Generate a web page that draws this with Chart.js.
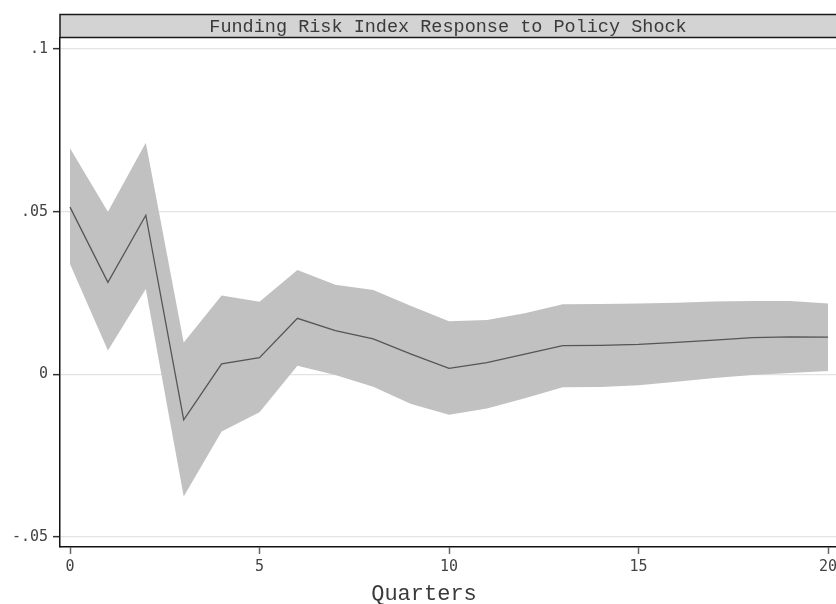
<!DOCTYPE html>
<html>
<head>
<meta charset="utf-8">
<script src="https://cdn.jsdelivr.net/npm/chart.js@4.4.1/dist/chart.umd.min.js"></script>
<style>
  html, body { margin: 0; padding: 0; background: #ffffff; overflow: hidden; }
  #irf { display: block; }
</style>
</head>
<body>
<canvas id="irf" width="836" height="604"></canvas>
<script>
// ---- datos del gráfico ----
var quarters = [0, 1, 2, 3, 4, 5, 6, 7, 8, 9, 10, 11, 12, 13, 14, 15, 16, 17, 18, 19, 20];
var irfValues = [0.0514, 0.0283, 0.0489, -0.0140, 0.0032, 0.0051, 0.0172, 0.0134, 0.0109, 0.0062, 0.0018,
                 0.0036, 0.0062, 0.0088, 0.0089, 0.0092, 0.0098, 0.0105, 0.0113, 0.0115, 0.0114];
var upperBand = [0.0695, 0.0500, 0.0712, 0.0098, 0.0242, 0.0223, 0.0321, 0.0275, 0.0259, 0.0210, 0.0163,
                 0.0167, 0.0188, 0.0215, 0.0216, 0.0218, 0.0220, 0.0224, 0.0225, 0.0225, 0.0218];
var lowerBand = [0.0339, 0.0073, 0.0262, -0.0376, -0.0176, -0.0117, 0.0026, -0.0002, -0.0038, -0.0091, -0.0124,
                 -0.0105, -0.0074, -0.0040, -0.0039, -0.0034, -0.0023, -0.0011, -0.0002, 0.0004, 0.0010];
var yTicks = [-0.05, 0, 0.05, 0.1];
var yTickLabels = ['-.05', '0', '.05', '.1'];
var xTicks = [0, 5, 10, 15, 20];
var chartTitle = 'Funding Risk Index Response to Policy Shock';
var xTitle = 'Quarters';

function pares(vals) {
  return quarters.map(function(q, i) { return { x: q, y: vals[i] }; });
}

// ---- barra de título y título del eje (estilo Stata) ----
var marcoStata = {
  id: 'marcoStata',
  afterDraw: function(chart) {
    var ctx = chart.ctx;
    var area = chart.chartArea;
    ctx.save();
    // barra del título
    ctx.fillStyle = '#d3d3d3';
    ctx.fillRect(area.left, 14, area.right - area.left, 24);
    ctx.strokeStyle = '#1a1a1a';
    ctx.lineWidth = 1.5;
    ctx.beginPath();
    ctx.moveTo(area.right, 14.5);
    ctx.lineTo(area.left, 14.5);
    ctx.lineTo(area.left, 38);
    ctx.moveTo(area.left, 37.5);
    ctx.lineTo(area.right, 37.5);
    ctx.stroke();
    ctx.fillStyle = '#3a3a3a';
    ctx.font = '18.5px "Liberation Mono", monospace';
    ctx.textAlign = 'center';
    ctx.textBaseline = 'middle';
    ctx.fillText(chartTitle, (area.left + area.right) / 2, 27);
    // título del eje x
    ctx.font = '22px "Liberation Mono", monospace';
    ctx.fillText(xTitle, 424, 594);
    ctx.restore();
  }
};

new Chart(document.getElementById('irf'), {
  type: 'line',
  data: {
    datasets: [
      {
        label: 'IRF',
        data: pares(irfValues),
        borderColor: '#555555',
        borderWidth: 1.3,
        pointRadius: 0,
        fill: false,
        tension: 0
      },
      {
        label: 'Upper',
        data: pares(upperBand),
        borderWidth: 0,
        borderColor: 'rgba(0,0,0,0)',
        backgroundColor: '#c1c1c1',
        pointRadius: 0,
        fill: '+1',
        tension: 0
      },
      {
        label: 'Lower',
        data: pares(lowerBand),
        borderWidth: 0,
        borderColor: 'rgba(0,0,0,0)',
        pointRadius: 0,
        fill: false,
        tension: 0
      }
    ]
  },
  options: {
    responsive: false,
    animation: false,
    devicePixelRatio: 1,
    layout: { padding: { top: 38, right: 0, bottom: 0, left: 0 } },
    plugins: { legend: { display: false }, tooltip: { enabled: false } },
    scales: {
      x: {
        type: 'linear',
        min: -0.264,
        max: 20.21,
        afterBuildTicks: function(scale) {
          scale.ticks = xTicks.map(function(v) { return { value: v }; });
        },
        afterFit: function(scale) {
          scale.height = 57;
          scale.paddingLeft = 0;
          scale.paddingRight = 0;
        },
        grid: { drawOnChartArea: false, tickLength: 7, tickColor: '#666666', tickWidth: 1.5 },
        border: { color: '#111111', width: 1.5 },
        ticks: {
          maxRotation: 0,
          padding: 4,
          color: '#444444',
          font: { family: '"DejaVu Sans Mono", monospace', size: 15 },
          callback: function(v) { return String(v); }
        }
      },
      y: {
        min: -0.0531,
        max: 0.1034,
        afterBuildTicks: function(scale) {
          scale.ticks = yTicks.map(function(v) { return { value: v }; });
        },
        afterFit: function(scale) {
          scale.width = 60;
          scale.paddingTop = 0;
          scale.paddingBottom = 0;
        },
        grid: { color: '#e3e3e3', lineWidth: 1.3, tickLength: 7, tickColor: '#333333', tickWidth: 1.5 },
        border: { color: '#111111', width: 1.5 },
        ticks: {
          padding: 5,
          color: '#444444',
          font: { family: '"DejaVu Sans Mono", monospace', size: 15 },
          callback: function(v) {
            var i = yTicks.indexOf(v);
            return i >= 0 ? yTickLabels[i] : '';
          }
        }
      }
    }
  },
  plugins: [marcoStata]
});
</script>
</body>
</html>
